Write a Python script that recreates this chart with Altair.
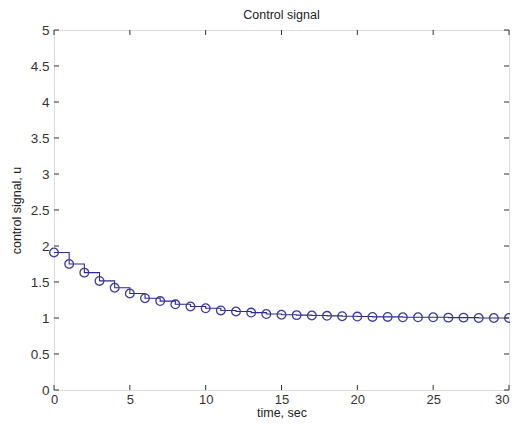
import altair as alt
import pandas as pd

# data
time = list(range(31))
u = [1.91, 1.75, 1.63, 1.515, 1.42, 1.34, 1.275, 1.235, 1.19, 1.16,
     1.135, 1.105, 1.09, 1.075, 1.055, 1.045, 1.04, 1.035, 1.03, 1.025,
     1.02, 1.015, 1.015, 1.01, 1.01, 1.01, 1.005, 1.005, 1.0, 1.0, 1.0]
x_ticks = [0, 5, 10, 15, 20, 25, 30]
y_ticks = [0, 0.5, 1, 1.5, 2, 2.5, 3, 3.5, 4, 4.5, 5]

W, H = 455, 360
FONT = "Liberation Sans"
LINE_COLOR = "#2a2a8c"
MARK_COLOR = "#3b3b9e"

df = pd.DataFrame({"time": time, "u": u})
dx = pd.DataFrame({"v": x_ticks})
dy = pd.DataFrame({"v": y_ticks})

xscale = alt.Scale(domain=[0, 30], nice=False, zero=False)
yscale = alt.Scale(domain=[0, 5], nice=False, zero=False)

xaxis = alt.Axis(values=x_ticks, format="~g", ticks=False, domain=False, grid=False,
                 labelOverlap=False, labelFlush=False,
                 labelAlign=alt.ExprRef(expr="datum.value == 30 ? 'right' : 'center'"),
                 labelPadding=3, title="time, sec", titlePadding=0,
                 labelFont=FONT, labelFontSize=13, labelColor="#333",
                 titleFont=FONT, titleFontSize=12.5, titleFontWeight="normal", titleColor="#222")
yaxis = alt.Axis(values=y_ticks, format="~g", ticks=False, domain=False, grid=False,
                 labelOverlap=False, labelFlush=False,
                 labelPadding=5, title="control signal, u", titlePadding=7,
                 labelFont=FONT, labelFontSize=13.5, labelColor="#333",
                 titleFont=FONT, titleFontSize=12.5, titleFontWeight="normal", titleColor="#222")

line = alt.Chart(df).mark_line(interpolate="step-after", color=LINE_COLOR, strokeWidth=1.1).encode(
    x=alt.X("time:Q", scale=xscale, axis=xaxis),
    y=alt.Y("u:Q", scale=yscale, axis=yaxis),
)
pts = alt.Chart(df).mark_point(shape="circle", filled=False, size=75, strokeWidth=1.3,
                               color=MARK_COLOR, opacity=1).encode(
    x=alt.X("time:Q", scale=xscale, axis=xaxis),
    y=alt.Y("u:Q", scale=yscale, axis=yaxis),
)

tick_color = "#333"
xb = alt.Chart(dx).mark_rule(color=tick_color, strokeWidth=1).encode(
    x=alt.X("v:Q", scale=xscale, axis=xaxis), y=alt.value(H), y2=alt.value(H - 5))
xt = alt.Chart(dx).mark_rule(color=tick_color, strokeWidth=1).encode(
    x=alt.X("v:Q", scale=xscale, axis=xaxis), y=alt.value(0), y2=alt.value(5))
yl = alt.Chart(dy).mark_rule(color=tick_color, strokeWidth=1).encode(
    y=alt.Y("v:Q", scale=yscale, axis=yaxis), x=alt.value(0), x2=alt.value(5))
yr = alt.Chart(dy).mark_rule(color=tick_color, strokeWidth=1).encode(
    y=alt.Y("v:Q", scale=yscale, axis=yaxis), x=alt.value(W), x2=alt.value(W - 5))

chart = alt.layer(line, xb, xt, yl, yr, pts).properties(
    width=W, height=H,
    title=alt.TitleParams("Control signal", font=FONT, fontSize=12.5, fontWeight="normal",
                          color="#222", offset=2, anchor="middle"),
    autosize=alt.AutoSizeParams(type="none"),
    padding={"left": 46, "top": 22, "right": 1, "bottom": 29},
).configure_view(stroke="#333", strokeWidth=1).configure(background="white")

chart.save("out.html", embed_options={"renderer": "svg", "actions": False})
